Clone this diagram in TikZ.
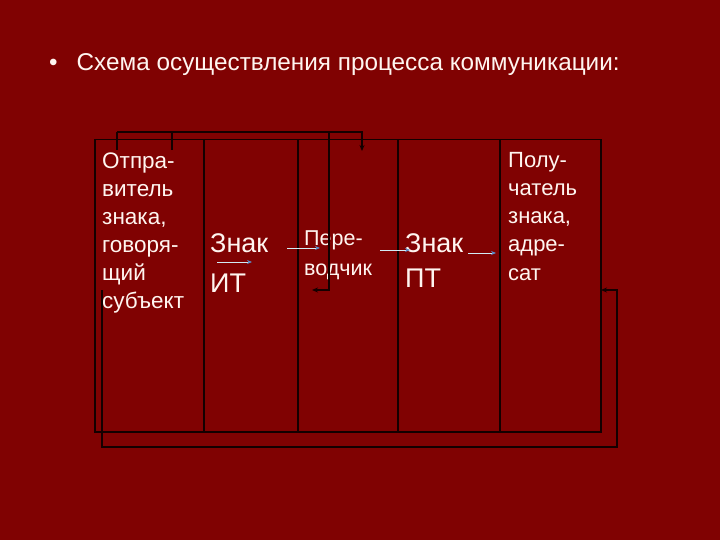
\documentclass[tikz,border=0pt]{standalone}
\usepackage{fontspec}
\setmainfont{Liberation Sans}
\usetikzlibrary{arrows.meta}
\definecolor{bg}{RGB}{128,2,2}
\definecolor{txt}{RGB}{255,245,240}
\definecolor{lin}{RGB}{20,0,0}
\definecolor{arr}{RGB}{210,235,245}
\definecolor{arrh}{RGB}{90,140,200}
\begin{document}
\begin{tikzpicture}[x=1pt,y=-1pt,
  cell/.style={draw=lin,line width=1.5pt,minimum height=292pt,inner sep=0pt,anchor=north west},
  txtlbl/.style={text=txt,inner sep=0pt,align=left,anchor=base west},
  wire/.style={draw=lin,line width=1.5pt},
  wirearr/.style={wire,-{Stealth[length=6pt,width=5pt]}},
  sarr/.style={draw=arr,line width=1pt,-{Stealth[length=5pt,width=4pt,color=arrh]}}]
\fill[bg] (0,0) rectangle (720,540);
\useasboundingbox (0,0) rectangle (720,540);
% title
\node[txtlbl,font=\fontsize{24.3}{28}\selectfont] (title) at (49,71) {•\hspace{19pt}Схема осуществления процесса коммуникации:};
% cells
\node[cell,minimum width=109pt] (c1) at (94,139) {};
\node[cell,minimum width=94pt] (c2) at (203,139) {};
\node[cell,minimum width=100pt] (c3) at (297,139) {};
\node[cell,minimum width=102pt] (c4) at (397,139) {};
\node[cell,minimum width=101pt] (c5) at (499,139) {};
% texts (base anchor = last line baseline)
\node[txtlbl,font=\fontsize{22.5}{28}\selectfont] (snd) at (102,308) {Отпра-\\витель\\знака,\\говоря-\\щий\\субъект};
\node[txtlbl,font=\fontsize{27}{40}\selectfont] (sign1) at (210,292) {Знак\\ИТ};
\node[txtlbl,font=\fontsize{21.5}{30}\selectfont] (tr) at (304,275) {Пере-\\водчик};
\node[txtlbl,font=\fontsize{27}{35}\selectfont] (sign2) at (405,287) {Знак\\ПТ};
\node[txtlbl,font=\fontsize{22}{28.2}\selectfont] (rcv) at (508,280) {Полу-\\чатель\\знака,\\адре-\\сат};
% small arrows
\coordinate (a1s) at (217,262); \coordinate (a1e) at (252,262);
\coordinate (a2s) at (287,248); \coordinate (a2e) at (320,248);
\coordinate (a3s) at (380,250); \coordinate (a3e) at (410,250);
\coordinate (a4s) at (468,253); \coordinate (a4e) at (496,253);
\draw[sarr] (a1s) -- (a1e);
\draw[sarr] (a2s) -- (a2e);
\draw[sarr] (a3s) -- (a3e);
\draw[sarr] (a4s) -- (a4e);
% top feedback
\coordinate (t1) at (117,150); \coordinate (t1u) at (117,132);
\coordinate (t2) at (172,150); \coordinate (t2u) at (172,132);
\coordinate (t3u) at (362,132); \coordinate (t3) at (362,151);
\coordinate (tv) at (329,132); \coordinate (tvd) at (329,290); \coordinate (tve) at (312,290);
\draw[wire] (t1) -- (t1u);
\draw[wire] (t2) -- (t2u);
\draw[wirearr] (t1u) -- (t3u) -- (t3);
\draw[wirearr] (tv) -- (tvd) -- (tve);
% bottom loop
\coordinate (b1) at (102,290); \coordinate (b2) at (102,447);
\coordinate (b3) at (617,447); \coordinate (b4) at (617,290); \coordinate (b5) at (601,290);
\draw[wirearr] (b1) -- (b2) -- (b3) -- (b4) -- (b5);
\end{tikzpicture}
\end{document}
